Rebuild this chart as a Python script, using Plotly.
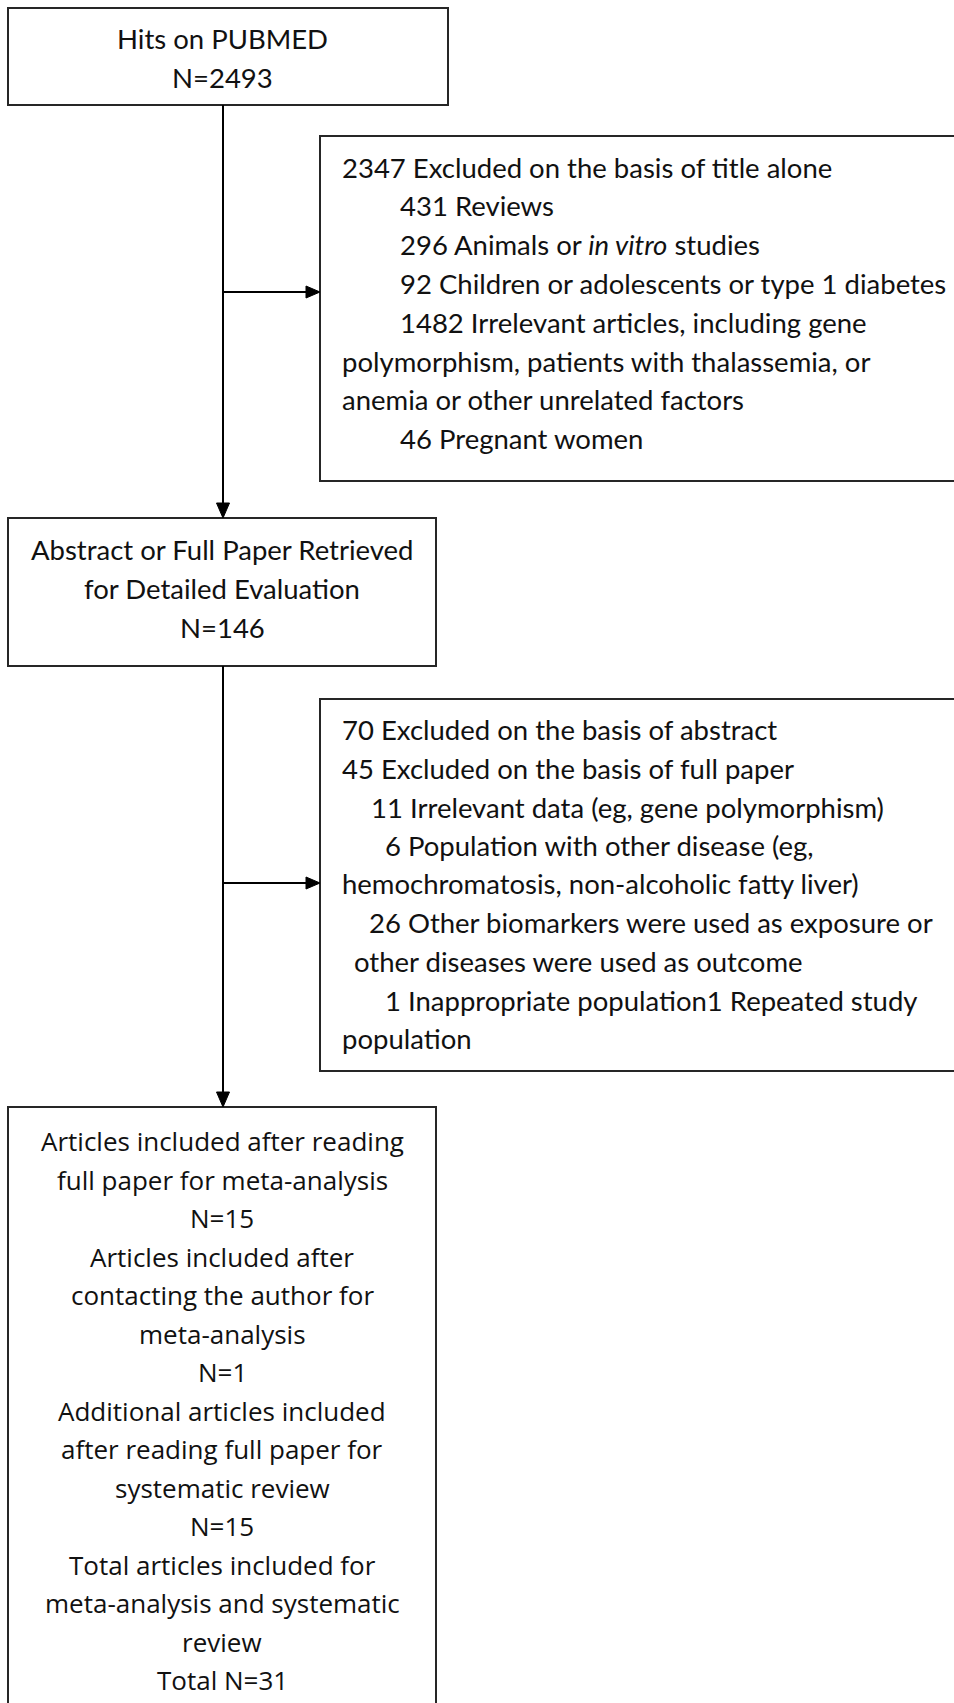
import plotly.graph_objects as go

W, H = 954, 1703

# ---- flowchart content ----
box_ids = ["hits", "excl1", "retrieved", "excl2", "included"]
box_x0 = [8, 320, 8, 320, 8]
box_x1 = [448, 962, 436, 962, 436]
box_y0 = [8, 136, 518, 699, 1107]
box_y1 = [105, 481, 666, 1071, 1712]

hits_lines = ["Hits on PUBMED", "N=2493"]
hits_y = [38, 77]

excl1_lines = [
    "2347 Excluded on the basis of title alone",
    "431 Reviews",
    "296 Animals or <i>in vitro</i> studies",
    "92 Children or adolescents or type 1 diabetes",
    "1482 Irrelevant articles, including gene",
    "polymorphism, patients with thalassemia, or",
    "anemia or other unrelated factors",
    "46 Pregnant women",
]
excl1_x = [340, 398, 398, 398, 398, 340, 340, 398]
excl1_y = [167, 205, 244, 283, 322, 361, 399, 438]

retr_lines = ["Abstract or Full Paper Retrieved", "for Detailed Evaluation", "N=146"]
retr_y = [549, 588, 627]

excl2_lines = [
    "70 Excluded on the basis of abstract",
    "45 Excluded on the basis of full paper",
    "11 Irrelevant data (eg, gene polymorphism)",
    "6 Population with other disease (eg,",
    "hemochromatosis, non-alcoholic fatty liver)",
    "26 Other biomarkers were used as exposure or",
    "other diseases were used as outcome",
    "1 Inappropriate population1 Repeated study",
    "population",
]
excl2_x = [340, 340, 369, 383, 340, 367, 352, 383, 340]
excl2_y = [729, 768, 807, 845, 883, 922, 961, 1000, 1038]

incl_lines = [
    "Articles included after reading",
    "full paper for meta-analysis",
    "N=15",
    "Articles included after",
    "contacting the author for",
    "meta-analysis",
    "N=1",
    "Additional articles included",
    "after reading full paper for",
    "systematic review",
    "N=15",
    "Total articles included for",
    "meta-analysis and systematic",
    "review",
    "Total N=31",
]
incl_y0, incl_step = 1141, 38.5

spine_x = 223
arrow_y = [292, 883]

LINE = "#262626"
FONT_A = "Lato, Carlito, Calibri, sans-serif"
FONT_B = "Open Sans, sans-serif"
FS_A = 27.5
FS_B = 26

fig = go.Figure()
fig.add_trace(go.Scatter(x=[0, W], y=[0, H], mode="markers",
                         marker=dict(opacity=0), hoverinfo="skip", showlegend=False))

shapes = []
for x0, x1, y0, y1 in zip(box_x0, box_x1, box_y0, box_y1):
    shapes.append(dict(type="rect", xref="x", yref="y", x0=x0, x1=x1, y0=y0, y1=y1,
                       line=dict(color=LINE, width=2), fillcolor="rgba(0,0,0,0)"))

def arrow_down(x, ytop, ybot):
    shapes.append(dict(type="line", xref="x", yref="y", x0=x, x1=x, y0=ytop, y1=ybot - 10,
                       line=dict(color="#000", width=2)))
    shapes.append(dict(type="path", xref="x", yref="y",
                       path=f"M {x-6.5},{ybot-15} L {x+6.5},{ybot-15} L {x},{ybot} Z",
                       fillcolor="#000", line=dict(color="#000", width=1)))

def arrow_right(y, xl, xr):
    shapes.append(dict(type="line", xref="x", yref="y", x0=xl, x1=xr - 10, y0=y, y1=y,
                       line=dict(color="#000", width=2)))
    shapes.append(dict(type="path", xref="x", yref="y",
                       path=f"M {xr-14},{y-6} L {xr-14},{y+6} L {xr},{y} Z",
                       fillcolor="#000", line=dict(color="#000", width=1)))

arrow_down(spine_x, box_y1[0], box_y0[2])
arrow_down(spine_x, box_y1[2], box_y0[4])
arrow_right(arrow_y[0], spine_x, box_x0[1])
arrow_right(arrow_y[1], spine_x, box_x0[3])

annotations = []
def txt(x, y, s, anchor, font, size):
    annotations.append(dict(x=x, y=y, xref="x", yref="y", text=s, showarrow=False,
                            xanchor=anchor, yanchor="middle",
                            font=dict(family=font, size=size, color="#111")))

cx1 = (box_x0[0] + box_x1[0]) / 2 - 6
for s, y in zip(hits_lines, hits_y):
    txt(cx1, y, s, "center", FONT_A, FS_A)
for s, x, y in zip(excl1_lines, excl1_x, excl1_y):
    txt(x, y, s, "left", FONT_A, FS_A)
cx3 = (box_x0[2] + box_x1[2]) / 2
for s, y in zip(retr_lines, retr_y):
    txt(cx3, y, s, "center", FONT_A, FS_A)
for s, x, y in zip(excl2_lines, excl2_x, excl2_y):
    txt(x, y, s, "left", FONT_A, FS_A)
cx5 = (box_x0[4] + box_x1[4]) / 2
for i, s in enumerate(incl_lines):
    txt(cx5, incl_y0 + i * incl_step, s, "center", FONT_B, FS_B)

fig.update_layout(
    width=W, height=H, autosize=False,
    margin=dict(l=0, r=0, t=0, b=0),
    paper_bgcolor="white", plot_bgcolor="white",
    xaxis=dict(range=[0, W], visible=False, fixedrange=True),
    yaxis=dict(range=[H, 0], visible=False, fixedrange=True),
    shapes=shapes, annotations=annotations, showlegend=False,
)
fig.write_html("out.html", config={"displayModeBar": False},
               post_script="document.body.style.margin='0px';")
